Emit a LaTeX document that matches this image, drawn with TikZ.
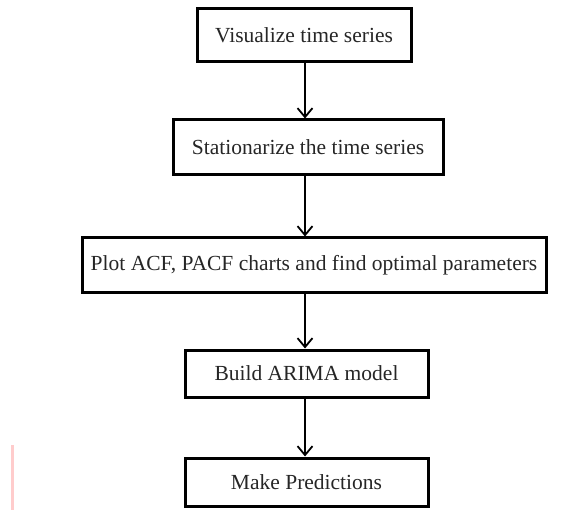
\documentclass[tikz,border=0pt]{standalone}
\usepackage{fontspec}
\setmainfont{Liberation Serif}
\usetikzlibrary{arrows.meta}
\begin{document}
\begin{tikzpicture}[x=1pt,y=-1pt,
  stepbox/.style={draw=black, line width=3pt, fill=white, inner sep=0pt,
    font=\fontsize{21.5}{24}\selectfont, text=black!85},
  flow/.style={draw=black, line width=1.8pt,
    -{Straight Barb[length=9pt,width=15pt,line width=1.8pt]}}]
  \useasboundingbox (0,0) rectangle (577,510);
  \fill[white] (0,0) rectangle (577,510);
  % faint pink edge mark at lower left
  \draw[line width=3pt, red!20] (12,445) -- (12,510);

  \node[stepbox, minimum width=214pt, minimum height=53pt] (b1) at (304,35.5) {Visualize time series};
  \node[stepbox, minimum width=270pt, minimum height=55pt] (b2) at (308,147.5) {Stationarize the time series};
  \node[stepbox, minimum width=464pt, minimum height=54pt] (b3) at (314,265) {Plot ACF, PACF charts and find optimal parameters};
  \node[stepbox, minimum width=243pt, minimum height=47pt] (b4) at (306.5,373.5) {Build ARIMA model};
  \node[stepbox, minimum width=243pt, minimum height=48pt] (b5) at (306.5,482) {Make Predictions};

  \coordinate (ax) at (305,0);
  \draw[flow] (b1.south -| ax) -- (b2.north -| ax);
  \draw[flow] (b2.south -| ax) -- (b3.north -| ax);
  \draw[flow] (b3.south -| ax) -- (b4.north -| ax);
  \draw[flow] (b4.south -| ax) -- (b5.north -| ax);
\end{tikzpicture}
\end{document}
